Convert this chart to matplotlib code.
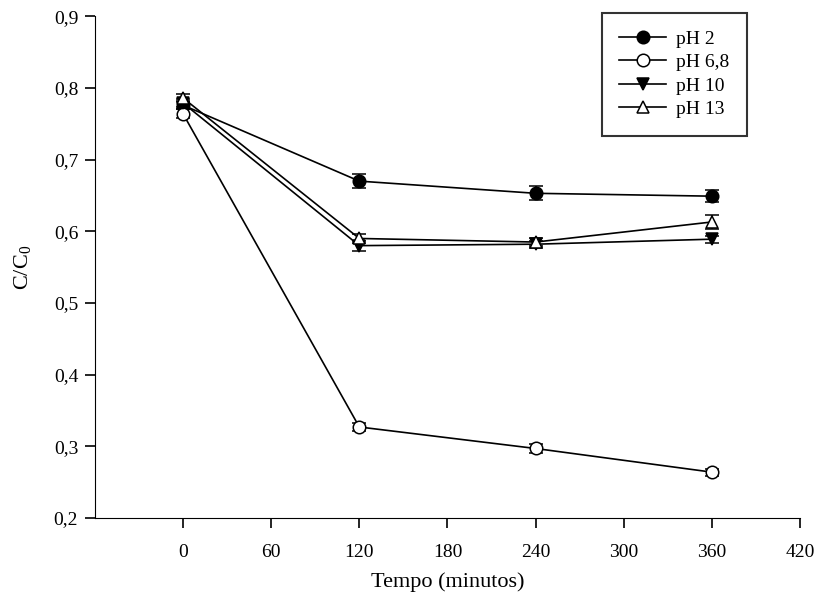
import matplotlib
matplotlib.use('Agg')
import matplotlib.pyplot as plt
from matplotlib.lines import Line2D
from matplotlib.ticker import FuncFormatter

plt.rcParams['font.family'] = 'Liberation Serif'
plt.rcParams['mathtext.fontset'] = 'custom'
plt.rcParams['mathtext.rm'] = 'Liberation Serif'

tempo = [0, 120, 240, 360]

ph2 = [0.776, 0.670, 0.653, 0.649]
ph2_err = [0.006, 0.010, 0.010, 0.008]

ph68 = [0.764, 0.327, 0.297, 0.264]
ph68_err = [0.006, 0.006, 0.006, 0.005]

ph10 = [0.779, 0.580, 0.582, 0.589]
ph10_err = [0.006, 0.007, 0.005, 0.005]

ph13 = [0.786, 0.590, 0.585, 0.613]
ph13_err = [0.006, 0.006, 0.005, 0.010]

labels = ['pH 2', 'pH 6,8', 'pH 10', 'pH 13']

fig = plt.figure(figsize=(8.18, 6.02), dpi=100)
ax = fig.add_axes([0.116, 0.1395, 0.862, 0.8335])

series = [
    (ph2, ph2_err, 'o', 'black'),
    (ph68, ph68_err, 'o', 'white'),
    (ph10, ph10_err, 'v', 'black'),
    (ph13, ph13_err, '^', 'white'),
]
handles = []
for (vals, err, mk, fc), lab in zip(series, labels):
    ax.errorbar(tempo, vals, yerr=err, marker=mk, markersize=9, mfc=fc,
                mec='black', mew=1.1, color='black', lw=1.2, capsize=5,
                elinewidth=1.2, capthick=1.2)
    handles.append(Line2D([], [], marker=mk, markersize=9, mfc=fc, mec='black',
                          mew=1.1, color='black', lw=1.2, label=lab))

ax.set_xlim(-60, 420)
ax.set_ylim(0.2, 0.9)
ax.set_xticks([0, 60, 120, 180, 240, 300, 360, 420])
ax.set_yticks([0.2, 0.3, 0.4, 0.5, 0.6, 0.7, 0.8, 0.9])
ax.yaxis.set_major_formatter(FuncFormatter(lambda v, p: f'{v:.1f}'.replace('.', ',')))
ax.spines['top'].set_visible(False)
ax.spines['right'].set_visible(False)
ax.tick_params(direction='out', length=7, width=1.2, labelsize=14, pad=12)
ax.tick_params(axis='y', pad=5)
ax.set_xlabel('Tempo (minutos)', fontsize=16, labelpad=8)
ax.set_ylabel(r'C/C$_\mathregular{0}$', fontsize=16, labelpad=14)

leg = ax.legend(handles=handles, loc='upper left', bbox_to_anchor=(0.719, 1.007),
                fontsize=14, frameon=True, fancybox=False, edgecolor='black',
                handlelength=2.4, borderpad=0.9, labelspacing=0.3,
                handletextpad=0.5, borderaxespad=0)
leg.get_frame().set_linewidth(1.5)

fig.savefig('out.png', dpi=100)
